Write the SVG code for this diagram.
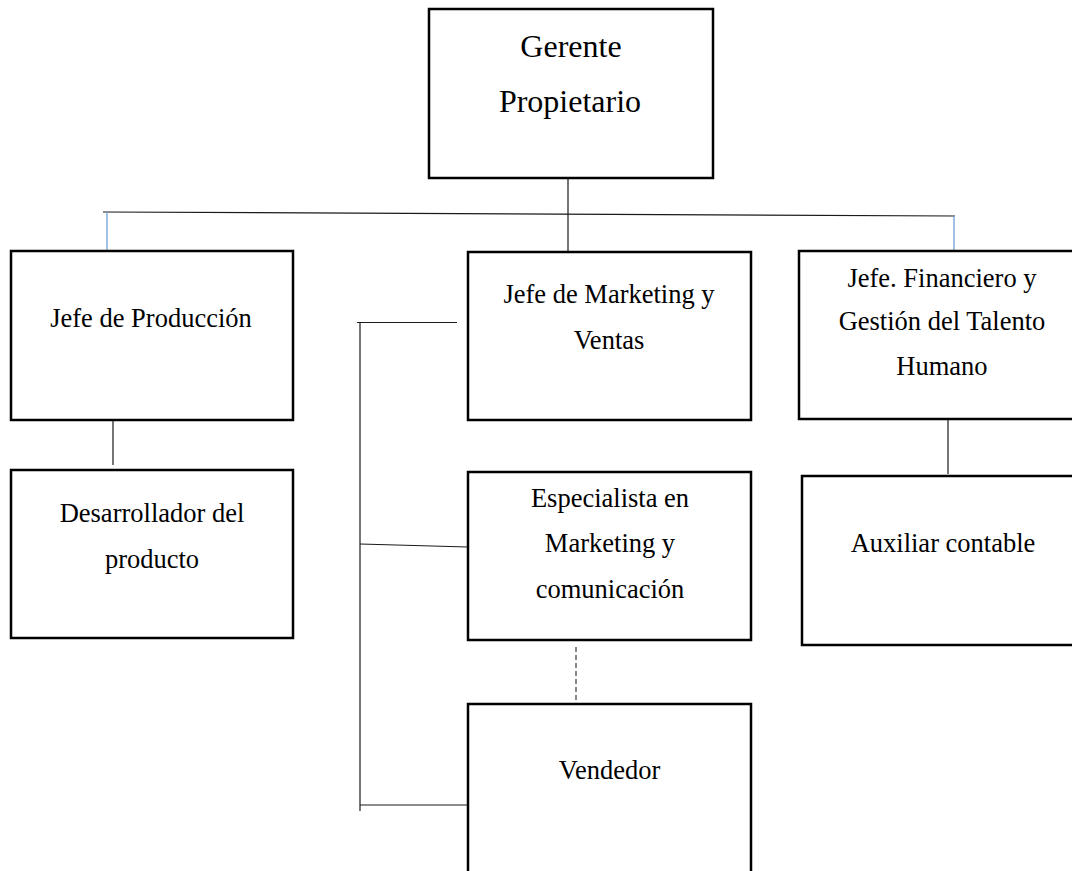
<svg xmlns="http://www.w3.org/2000/svg" width="1072" height="871" viewBox="0 0 1072 871">
  <style>
    .box { fill: #ffffff; stroke: #000000; stroke-width: 2.5; }
    .lbl { font-family: "Liberation Serif", "Times New Roman", serif; font-size: 26.5px; fill: #000000; text-anchor: middle; }
    .big { font-size: 32px; }
    .ln { stroke: #1a1a1a; stroke-width: 1.2; fill: none; }
    .blue { stroke: #7aa6d8; stroke-width: 1.4; fill: none; }
    .dash { stroke: #555555; stroke-width: 1.4; stroke-dasharray: 5 3; fill: none; }
  </style>
  <rect width="1072" height="871" fill="#ffffff"/>

  <!-- connectors -->
  <g id="connectors">
    <line class="ln" x1="568" y1="178" x2="568" y2="252"/>
    <line class="ln" x1="103" y1="212" x2="955" y2="216"/>
    <line class="blue" x1="107" y1="212" x2="107" y2="251"/>
    <line class="blue" x1="954" y1="216" x2="954" y2="251"/>
    <line class="ln" x1="113" y1="417" x2="113" y2="465"/>
    <line class="ln" x1="948" y1="419" x2="948" y2="474"/>
    <line class="dash" x1="576" y1="647" x2="576" y2="702"/>
    <!-- bracket for the marketing area -->
    <line class="ln" x1="360" y1="322" x2="360" y2="811"/>
    <line class="ln" x1="357" y1="322.5" x2="457" y2="322.5"/>
    <line class="ln" x1="360" y1="544" x2="468" y2="547"/>
    <line class="ln" x1="360" y1="805" x2="471" y2="805"/>
  </g>

  <g id="gerente">
    <rect class="box" x="429" y="9" width="284" height="169"/>
    <text class="lbl big" x="571" y="57">Gerente</text>
    <text class="lbl big" x="570" y="112">Propietario</text>
  </g>

  <g id="jefe-produccion">
    <rect class="box" x="11" y="251" width="282" height="169"/>
    <text class="lbl" x="151" y="327">Jefe de Producción</text>
  </g>

  <g id="jefe-marketing">
    <rect class="box" x="468" y="252" width="283" height="168"/>
    <text class="lbl" x="609" y="303">Jefe de Marketing y</text>
    <text class="lbl" x="609" y="349">Ventas</text>
  </g>

  <g id="jefe-financiero">
    <rect class="box" x="799" y="251" width="282" height="168"/>
    <text class="lbl" x="942" y="287">Jefe. Financiero y</text>
    <text class="lbl" x="942" y="330">Gestión del Talento</text>
    <text class="lbl" x="942" y="375">Humano</text>
  </g>

  <g id="desarrollador">
    <rect class="box" x="11" y="470" width="282" height="168"/>
    <text class="lbl" x="152" y="522">Desarrollador del</text>
    <text class="lbl" x="152" y="568">producto</text>
  </g>

  <g id="especialista">
    <rect class="box" x="468" y="472" width="283" height="168"/>
    <text class="lbl" x="610" y="507">Especialista en</text>
    <text class="lbl" x="610" y="552">Marketing y</text>
    <text class="lbl" x="610" y="598">comunicación</text>
  </g>

  <g id="auxiliar">
    <rect class="box" x="802" y="476" width="282" height="169"/>
    <text class="lbl" x="943" y="552">Auxiliar contable</text>
  </g>

  <g id="vendedor">
    <rect class="box" x="468" y="704" width="283" height="200"/>
    <text class="lbl" x="609.5" y="779">Vendedor</text>
  </g>
</svg>
